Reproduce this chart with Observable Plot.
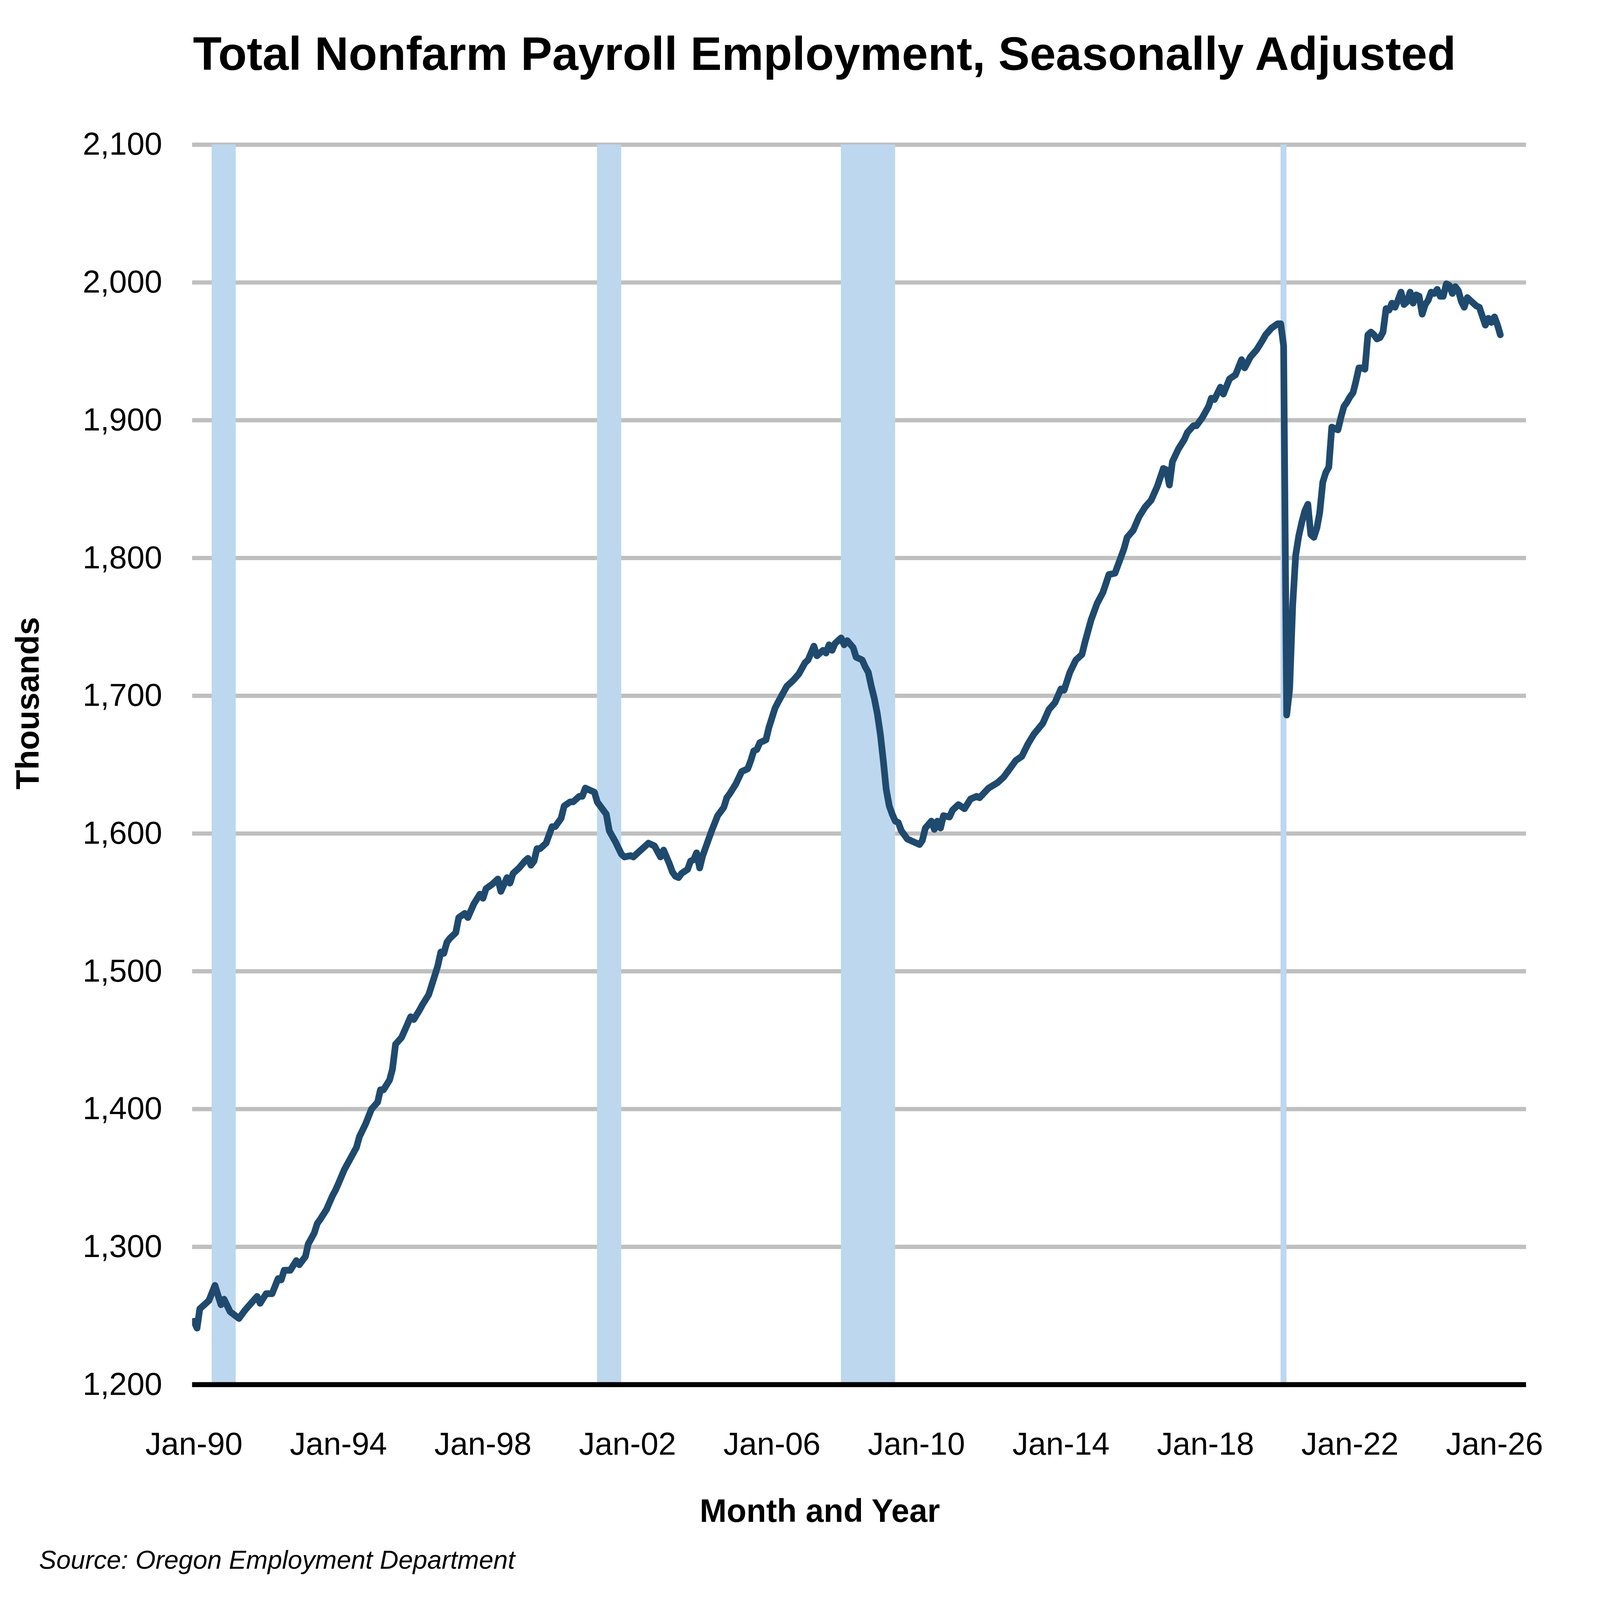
<!DOCTYPE html>
<html>
<head>
<meta charset="utf-8">
<script src="https://cdn.jsdelivr.net/npm/d3@7"></script>
<script src="https://cdn.jsdelivr.net/npm/@observablehq/plot@0.6"></script>
<style>
html, body { margin: 0; padding: 0; background: #fff; overflow: hidden; }
#page { position: relative; overflow: hidden; background: #fff;
  font-family: "Liberation Sans", Arial, Helvetica, sans-serif; color: #000; }
.t { position: absolute; white-space: nowrap; }
#title { font-weight: bold; }
#ylab { text-align: center; font-weight: bold; transform: rotate(-90deg); }
#xlab { text-align: center; font-weight: bold; }
#source { font-style: italic; }
#chart { position: absolute; left: 0; top: 0; }
</style>
</head>
<body>
<div id="page">
  <div id="chart"></div>
  <div class="t" id="title">Total Nonfarm Payroll Employment, Seasonally Adjusted</div>
  <div class="t" id="ylab">Thousands</div>
  <div class="t" id="xlab">Month and Year</div>
  <div class="t" id="source">Source: Oregon Employment Department</div>
</div>
<script>
// ---- Data (thousands of jobs) ----
const months = [
  "1990-01","1990-02","1990-03","1990-06","1990-08","1990-10","1990-11",
  "1991-01","1991-04","1991-06","1991-08","1991-10","1991-11",
  "1992-01","1992-03","1992-05","1992-06","1992-07","1992-09","1992-11","1992-12",
  "1993-02","1993-03","1993-05","1993-06","1993-07","1993-09","1993-11","1993-12",
  "1994-01","1994-03","1994-05","1994-07","1994-08","1994-10","1994-12",
  "1995-02","1995-03","1995-04","1995-06","1995-07","1995-08","1995-10","1995-11",
  "1996-01","1996-02","1996-04","1996-05","1996-07","1996-09","1996-10","1996-11","1996-12",
  "1997-01","1997-02","1997-04","1997-05","1997-07","1997-08","1997-10","1997-12",
  "1998-01","1998-02","1998-04","1998-06","1998-07","1998-09","1998-10","1998-11",
  "1999-01","1999-03","1999-04","1999-05","1999-06","1999-07","1999-08","1999-10","1999-12",
  "2000-01","2000-03","2000-04","2000-06","2000-07","2000-09","2000-10","2000-11","2000-12",
  "2001-02","2001-03","2001-05","2001-06","2001-07","2001-09","2001-11","2001-12",
  "2002-02","2002-03","2002-05","2002-06","2002-08","2002-10","2002-12",
  "2003-01","2003-03","2003-04","2003-05","2003-06","2003-07","2003-09","2003-10","2003-11","2003-12",
  "2004-01","2004-02","2004-04","2004-05","2004-07","2004-09","2004-10","2004-11",
  "2005-01","2005-03","2005-05","2005-06","2005-07","2005-08","2005-09","2005-11","2005-12",
  "2006-01","2006-02","2006-03","2006-05","2006-06","2006-08","2006-10","2006-12",
  "2007-01","2007-03","2007-04","2007-06","2007-07","2007-08","2007-09","2007-10","2007-12",
  "2008-01","2008-02","2008-04","2008-05","2008-07","2008-08","2008-09","2008-10","2008-11","2008-12",
  "2009-01","2009-02","2009-03","2009-04","2009-05","2009-06","2009-07","2009-08","2009-09","2009-10","2009-11",
  "2010-02","2010-03","2010-04","2010-06","2010-07","2010-08","2010-09","2010-10","2010-12",
  "2011-01","2011-03","2011-05","2011-07","2011-09","2011-10",
  "2012-01","2012-04","2012-06","2012-08","2012-10","2012-12",
  "2013-02","2013-04","2013-07","2013-09","2013-11",
  "2014-01","2014-02","2014-04","2014-06","2014-08","2014-09","2014-11",
  "2015-01","2015-03","2015-05","2015-07","2015-09","2015-10","2015-11",
  "2016-01","2016-03","2016-05","2016-07","2016-09","2016-11","2016-12",
  "2017-01","2017-02","2017-04","2017-06","2017-07","2017-09","2017-10","2017-12",
  "2018-02","2018-03","2018-04","2018-06","2018-07","2018-09","2018-11",
  "2019-01","2019-02","2019-04","2019-06","2019-08","2019-09","2019-11",
  "2020-01","2020-02","2020-03","2020-04","2020-05","2020-06","2020-07","2020-08","2020-09","2020-10","2020-11","2020-12",
  "2021-01","2021-02","2021-03","2021-04","2021-05","2021-06","2021-07","2021-08","2021-09","2021-10","2021-11","2021-12",
  "2022-01","2022-02","2022-03","2022-04","2022-05","2022-06","2022-07","2022-08","2022-09","2022-10","2022-11","2022-12",
  "2023-01","2023-02","2023-03","2023-04","2023-05","2023-06","2023-07","2023-08","2023-09","2023-10","2023-11","2023-12",
  "2024-01","2024-02","2024-03","2024-04","2024-05","2024-06","2024-07","2024-08","2024-09","2024-10","2024-11","2024-12",
  "2025-01","2025-02","2025-03","2025-04","2025-05","2025-07","2025-08","2025-10","2025-11","2025-12",
  "2026-01","2026-02","2026-03"
];
const employment = [
  1246,1241,1255,1261,1272,1258,1262,
  1253,1248,1254,1259,1264,1259,
  1266,1266,1277,1276,1283,1283,1290,1287,
  1293,1302,1310,1317,1320,1327,1337,1341,
  1346,1356,1364,1372,1380,1389,1400,
  1405,1414,1414,1421,1429,1447,1452,1457,
  1467,1465,1472,1476,1483,1497,1504,1514,1513,
  1521,1524,1528,1539,1542,1539,1549,1556,
  1553,1560,1563,1567,1558,1568,1564,1571,
  1575,1580,1582,1577,1580,1589,1589,1593,1605,
  1605,1611,1620,1623,1623,1627,1627,1633,1632,
  1630,1623,1617,1614,1602,1594,1585,1583,
  1584,1583,1587,1589,1593,1591,1583,
  1588,1578,1572,1569,1568,1571,1574,1580,1581,1586,
  1575,1584,1596,1602,1613,1619,1626,1629,
  1636,1645,1647,1653,1660,1661,1666,1668,1677,
  1684,1691,1695,1703,1707,1711,1716,1724,
  1726,1736,1729,1733,1731,1737,1733,1738,1742,
  1737,1740,1735,1728,1726,1721,1717,1707,1698,1687,
  1672,1652,1632,1620,1614,1609,1608,1602,1599,1596,1595,
  1592,1595,1604,1609,1603,1609,1604,1613,1612,
  1617,1621,1618,1625,1627,1626,
  1633,1637,1641,1647,1653,1656,
  1665,1672,1680,1690,1695,
  1705,1704,1717,1726,1730,1739,1755,
  1767,1775,1788,1789,1801,1807,1815,
  1820,1830,1837,1842,1852,1865,1864,
  1853,1870,1879,1886,1891,1896,1896,1902,
  1910,1916,1915,1924,1919,1930,1933,
  1944,1938,1946,1951,1958,1962,1967,
  1970,1970,1954,1686,1705,1766,1802,1816,1826,1834,1839,1817,
  1815,1822,1833,1855,1862,1866,1895,1894,1893,1902,1910,1913,
  1917,1920,1928,1938,1938,1937,1962,1964,1962,1959,1960,1964,
  1981,1980,1985,1982,1987,1993,1984,1986,1993,1985,1991,1990,
  1977,1984,1987,1993,1992,1995,1990,1990,1999,1998,1992,1997,
  1994,1986,1982,1989,1987,1983,1982,1969,1974,1971,
  1975,1969,1962
];
// Recessions (shaded)
const recessionStart = ["1990-07", "2001-03", "2007-12", "2020-02"];
const recessionEnd   = ["1991-03", "2001-11", "2009-06", "2020-04"];
// Axis ticks
const yTicks = [1200, 1300, 1400, 1500, 1600, 1700, 1800, 1900, 2000, 2100];
const xTickYears = [1990, 1994, 1998, 2002, 2006, 2010, 2014, 2018, 2022, 2026];

// ---- Layout: designed on a 5689 x 4119 canvas, fitted to the actual window ----
const REF_W = 5689, REF_H = 4119;
const W = window.innerWidth || REF_W;
const H = window.innerHeight || REF_H;
const sx = W / REF_W, sy = H / REF_H;
const fs = sx;                       // font scale (keeps horizontal extents)
const X = v => v * sx, Y = v => v * sy, F = v => v * fs;
const ASC = 0.8465;                  // baseline offset for line-height = font-size (Liberation Sans)

const page = document.getElementById("page");
page.style.width = W + "px";
page.style.height = H + "px";

function place(id, {left, width, baseline, size}) {
  const el = document.getElementById(id);
  el.style.fontSize = size + "px";
  el.style.lineHeight = size + "px";
  el.style.left = left + "px";
  if (width != null) el.style.width = width + "px";
  el.style.top = (baseline - ASC * size) + "px";
}
place("title", {left: X(686), baseline: Y(180), size: F(167)});
place("source", {left: X(139), baseline: Y(4039), size: F(92)});
{
  const size = F(115), w = X(2000);
  place("xlab", {left: X(2915) - w / 2, width: w, baseline: Y(3919), size});
}
{
  const size = F(115), w = 1000 * fs;
  const cx = X(138) - (ASC - 0.5) * size, cy = Y(1811);
  const el = document.getElementById("ylab");
  el.style.fontSize = size + "px";
  el.style.lineHeight = size + "px";
  el.style.width = w + "px";
  el.style.left = (cx - w / 2) + "px";
  el.style.top = (cy - size / 2) + "px";
}

// ---- Build data ----
const toDate = s => { const [y, m] = s.split("-").map(Number); return new Date(Date.UTC(y, m - 1, 1)); };
const series = months.map((m, i) => ({date: toDate(m), value: employment[i]}));
const recessions = recessionStart.map((s, i) => ({start: toDate(s), end: toDate(recessionEnd[i])}));
const xTicks = xTickYears.map(y => new Date(Date.UTC(y, 0, 1)));
const gridValues = yTicks.filter(v => v !== 1200);

const plotTop = Y(372), plotBottom = Y(3564), plotLeft = X(683), plotRight = X(5426);
const tickFont = F(113);

const chart = Plot.plot({
  width: W,
  height: H,
  marginTop: plotTop,
  marginBottom: H - plotBottom,
  marginLeft: plotLeft,
  marginRight: W - plotRight,
  style: {fontFamily: "'Liberation Sans', Arial, Helvetica, sans-serif", fontSize: tickFont + "px",
          color: "#000", background: "#fff", overflow: "visible"},
  x: {type: "utc", domain: [new Date(Date.UTC(1989, 11, 15)), new Date(Date.UTC(2026, 10, 18))], label: null},
  y: {domain: [1200, 2100], label: null},
  marks: [
    Plot.ruleY(gridValues, {stroke: "#bfbfbf", strokeWidth: 11 * sy}),
    Plot.rectX(recessions, {x1: "start", x2: "end", fill: "#bdd7ee"}),
    Plot.ruleY([1200], {stroke: "#000", strokeWidth: 13 * sy}),
    Plot.line(series, {x: "date", y: "value", stroke: "#1f4a6e", strokeWidth: 20 * (sx + sy) / 2,
      strokeLinejoin: "round", strokeLinecap: "round", clip: true}),
    Plot.axisX({ticks: xTicks, tickFormat: d => "Jan-" + String(d.getUTCFullYear()).slice(2),
      tickSize: 0, tickPadding: Y(3744) - plotBottom - 0.71 * tickFont, label: null}),
    Plot.axisY({ticks: yTicks, tickFormat: d3.format(","), tickSize: 0, tickPadding: X(107), label: null})
  ]
});
document.getElementById("chart").appendChild(chart);
</script>
</body>
</html>
